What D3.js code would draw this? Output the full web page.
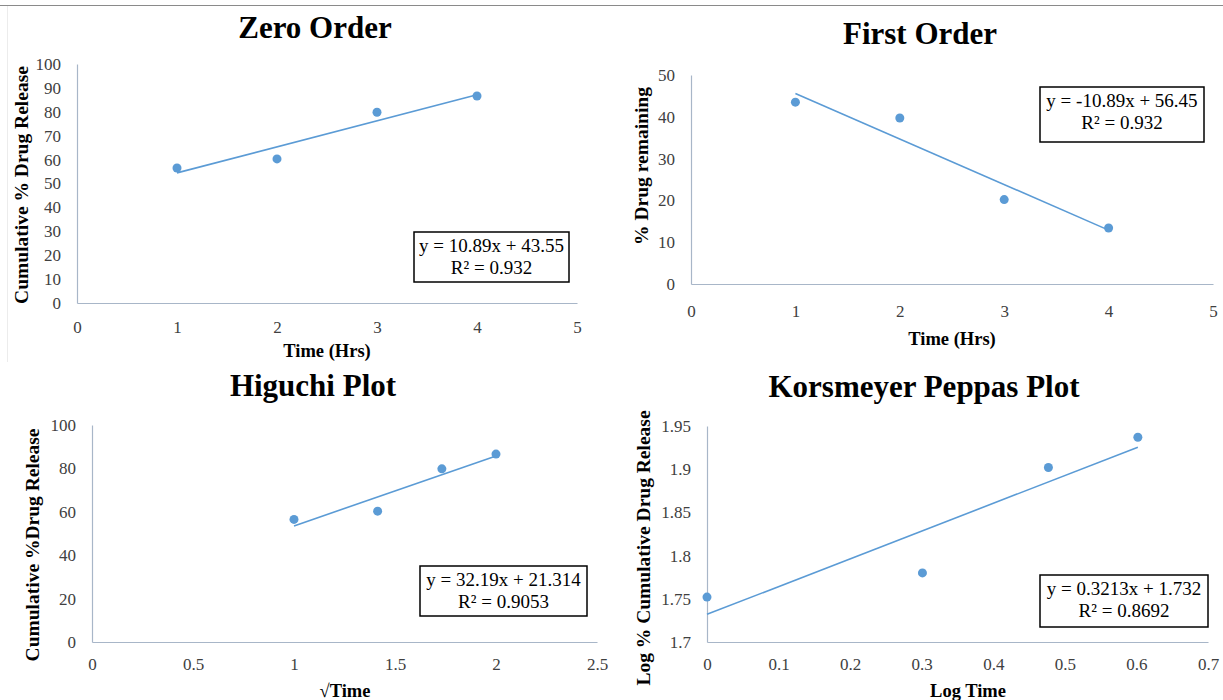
<!DOCTYPE html>
<html>
<head>
<meta charset="utf-8">
<script src="https://cdn.jsdelivr.net/npm/d3@7"></script>
<style>
  body { margin: 0; background: #fff; }
  svg { display: block; font-family: "Liberation Serif", "Times New Roman", serif; }
  .tick text { fill: #404040; font-size: 17px; font-family: "Liberation Serif", "Times New Roman", serif; }
  .domain { stroke: #a8b6c8; stroke-width: 1.2; }
</style>
</head>
<body>
<svg id="chart" width="1223" height="700"></svg>
<script>
// data
let timeHrs = [1, 2, 3, 4];
let cumRelease = [56.5, 60.3, 79.8, 86.6];
let drugRemaining = [43.5, 39.7, 20.2, 13.4];
let sqrtTime = [1, 1.414, 1.732, 2];
let logTime = [0, 0.301, 0.477, 0.602];
let logRelease = [1.752, 1.780, 1.902, 1.937];

// trendline fits as printed on the chart
let slopes = [10.89, -10.89, 32.19, 0.3213];
let intercepts = [43.55, 56.45, 21.314, 1.732];
let eqLines = [
  ["y = 10.89x + 43.55", "R\u00b2 = 0.932"],
  ["y = -10.89x + 56.45", "R\u00b2 = 0.932"],
  ["y = 32.19x + 21.314", "R\u00b2 = 0.9053"],
  ["y = 0.3213x + 1.732", "R\u00b2 = 0.8692"]
];

let titles = ["Zero Order", "First Order", "Higuchi Plot", "Korsmeyer Peppas Plot"];
let xTitles = ["Time (Hrs)", "Time (Hrs)", "\u221aTime", "Log Time"];
let yTitles = ["Cumulative % Drug Release", "% Drug remaining", "Cumulative %Drug Release", "Log % Cumulative Drug Release"];

let xTicks = [
  [0, 1, 2, 3, 4, 5],
  [0, 1, 2, 3, 4, 5],
  [0, 0.5, 1, 1.5, 2, 2.5],
  [0, 0.1, 0.2, 0.3, 0.4, 0.5, 0.6, 0.7]
];
let yTicks = [
  [0, 10, 20, 30, 40, 50, 60, 70, 80, 90, 100],
  [0, 10, 20, 30, 40, 50],
  [0, 20, 40, 60, 80, 100],
  [1.7, 1.75, 1.8, 1.85, 1.9, 1.95]
];

let xs = [timeHrs, timeHrs, sqrtTime, logTime];
let ys = [cumRelease, drugRemaining, cumRelease, logRelease];

// layout of the four panels
let panels = [
  {x: [77, 577], y: [303, 64], xd: [0, 5], yd: [0, 100], title: [315, 38], xt: [327, 357], yt: [21, 185], xPad: 18, box: [414, 232, 155, 50]},
  {x: [691, 1213], y: [284, 75], xd: [0, 5], yd: [0, 50], title: [920, 44], xt: [952, 345], yt: [641, 166], xPad: 21, box: [1040, 87, 164, 55]},
  {x: [92, 597], y: [642, 425], xd: [0, 2.5], yd: [0, 100], title: [313, 396], xt: [345, 697], yt: [32, 545], xPad: 16, box: [420, 566, 167, 50]},
  {x: [707, 1208], y: [642, 426], xd: [0, 0.7], yd: [1.7, 1.95], title: [924, 397], xt: [968, 697], yt: [643, 548], xPad: 16, box: [1040, 575, 168, 52]}
];

let svg = d3.select("#chart");

// top rule and faint frame of the first chart
svg.append("line").attr("x1", 0).attr("x2", 1223).attr("y1", 5.5).attr("y2", 5.5)
  .attr("stroke", "#8a8a8a").attr("stroke-width", 1.2);
svg.append("line").attr("x1", 7.5).attr("x2", 7.5).attr("y1", 6).attr("y2", 362)
  .attr("stroke", "#ececec");

panels.forEach(function(p, i) {
  let x = d3.scaleLinear().domain(p.xd).range(p.x);
  let y = d3.scaleLinear().domain(p.yd).range(p.y);
  let g = svg.append("g");

  g.append("g")
    .attr("transform", "translate(0," + p.y[0] + ")")
    .call(d3.axisBottom(x).tickValues(xTicks[i]).tickSize(0).tickPadding(p.xPad).tickFormat(d => String(d)))
    .attr("font-family", null).attr("font-size", null);

  g.append("g")
    .attr("transform", "translate(" + p.x[0] + ",0)")
    .call(d3.axisLeft(y).tickValues(yTicks[i]).tickSize(0).tickPadding(16).tickFormat(d => String(d)))
    .attr("font-family", null).attr("font-size", null);

  // trendline over the data range
  let x0 = d3.min(xs[i]), x1 = d3.max(xs[i]);
  g.append("line")
    .attr("x1", x(x0)).attr("y1", y(slopes[i] * x0 + intercepts[i]))
    .attr("x2", x(x1)).attr("y2", y(slopes[i] * x1 + intercepts[i]))
    .attr("stroke", "#5b9bd5").attr("stroke-width", 1.6);

  g.selectAll("circle").data(xs[i]).enter().append("circle")
    .attr("cx", d => x(d))
    .attr("cy", (d, j) => y(ys[i][j]))
    .attr("r", 4.5)
    .attr("fill", "#5b9bd5");

  g.append("text").attr("x", p.title[0]).attr("y", p.title[1])
    .attr("text-anchor", "middle").attr("font-weight", "bold").attr("font-size", 31)
    .text(titles[i]);

  g.append("text").attr("x", p.xt[0]).attr("y", p.xt[1])
    .attr("text-anchor", "middle").attr("font-weight", "bold").attr("font-size", 18.5)
    .text(xTitles[i]);

  g.append("text")
    .attr("transform", "translate(" + p.yt[0] + "," + p.yt[1] + ") rotate(-90)")
    .attr("text-anchor", "middle").attr("dy", "0.35em")
    .attr("font-weight", "bold").attr("font-size", 19.5)
    .text(yTitles[i]);

  // equation box
  let b = p.box;
  g.append("rect").attr("x", b[0]).attr("y", b[1]).attr("width", b[2]).attr("height", b[3])
    .attr("fill", "#fff").attr("stroke", "#000").attr("stroke-width", 1.5);
  eqLines[i].forEach(function(t, k) {
    g.append("text").attr("x", b[0] + b[2] / 2).attr("y", b[1] + 20 + k * 22)
      .attr("text-anchor", "middle").attr("font-size", 19).attr("fill", "#000")
      .text(t);
  });
});
</script>
</body>
</html>
